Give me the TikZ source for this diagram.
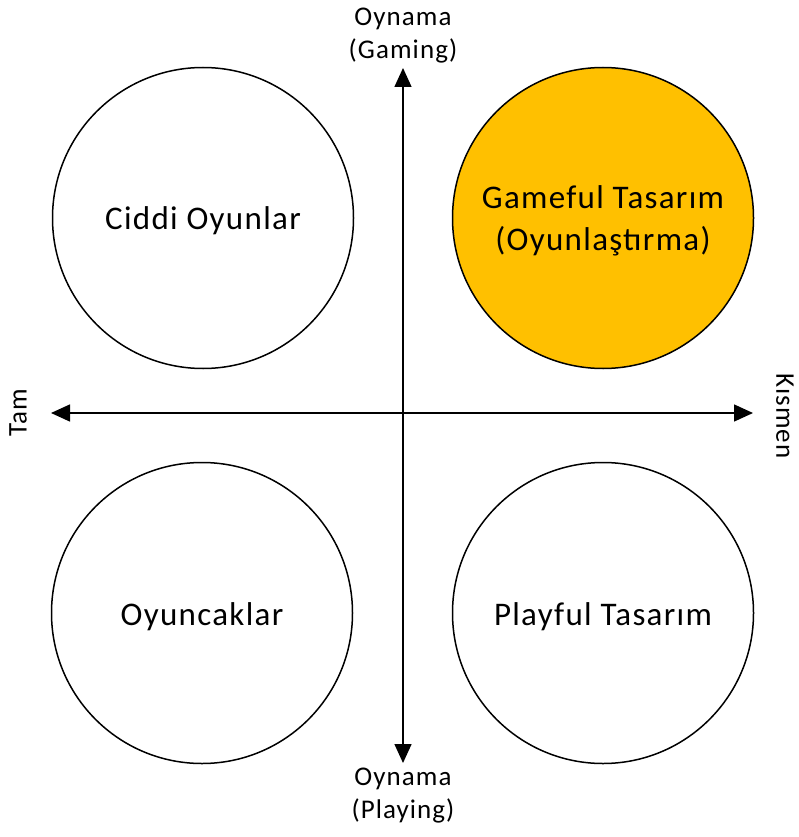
\documentclass[tikz,border=0pt]{standalone}
\usepackage{fontspec}
\setmainfont{Carlito}[LetterSpace=4]
\usetikzlibrary{arrows.meta}
\definecolor{gold}{HTML}{FFC000}
\begin{document}
\begin{tikzpicture}[x=1pt,y=-1pt,
  circ/.style={circle,draw=black,line width=1.5pt,minimum size=301pt,inner sep=0pt},
  ctext/.style={align=center,inner sep=0pt,font=\fontsize{33}{42}\selectfont},
  axis/.style={line width=1.5pt,{Triangle[length=19pt,width=17pt]}-{Triangle[length=19pt,width=17pt]}},
  lbl/.style={align=center,inner sep=0pt,font=\fontsize{27}{33}\selectfont}]
\useasboundingbox[fill=white] (0,0) rectangle (798,837);
\coordinate (vtop) at (403,68);
\coordinate (vbot) at (403,763);
\coordinate (hl) at (51,413);
\coordinate (hr) at (753,413);
\draw[axis] (vbot) -- (vtop);
\draw[axis] (hl) -- (hr);
\node[circ] (ciddi) at (203,218) {};
\node[circ,fill=gold] (gameful) at (603,218) {};
\node[circ] (oyuncak) at (202,613) {};
\node[circ] (playful) at (603,613) {};
\node[ctext] (tciddi) at ([yshift=-3pt]ciddi.center) {Ciddi Oyunlar};
\node[ctext] (tgameful) at ([yshift=-3pt]gameful.center) {Gameful Tasarım\\(Oyunlaştırma)};
\node[ctext] (toyuncak) at ([yshift=-4pt]oyuncak.center) {Oyuncaklar};
\node[ctext] (tplayful) at ([yshift=-4pt]playful.center) {Playful Tasarım};
\node[lbl] (gaming) at (403,36) {Oynama\\(Gaming)};
\node[lbl] (playing) at (403,796) {Oynama\\(Playing)};
\node[lbl,rotate=90] (tam) at (18,413) {Tam};
\node[lbl,rotate=-90] (kismen) at (785,416) {Kısmen};
\end{tikzpicture}
\end{document}
